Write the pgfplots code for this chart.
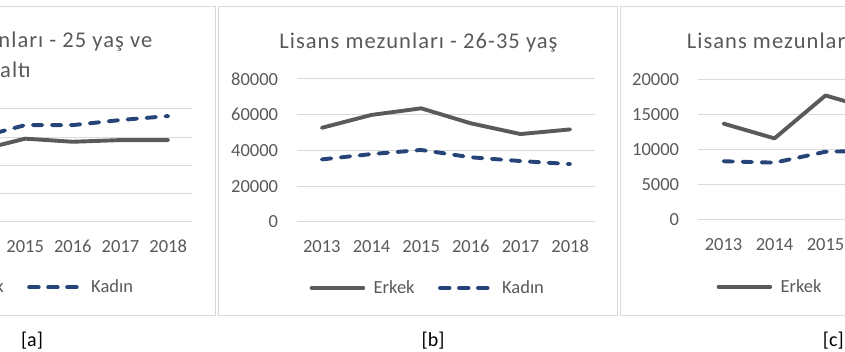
\documentclass[border=0pt]{standalone}
\usepackage{pgfplots}
\pgfplotsset{compat=1.18}
\usepackage{fontspec}
\setmainfont{Carlito}
\newfontfamily\titlefont{Carlito}[LetterSpace=4.6]
\definecolor{txtgray}{HTML}{595959}
\definecolor{lgray}{HTML}{5A5A5A}
\definecolor{kblue}{HTML}{264478}
\definecolor{gridc}{HTML}{D9D9D9}
\definecolor{boxc}{HTML}{D9D9D9}

\pgfplotsset{
  panel/.style={
    scale only axis,
    axis line style={draw=none},
    major tick length=0pt,
    tick style={draw=none},
    ymajorgrids,
    grid style={draw=gridc, line width=1pt},
    xmin=-0.5, xmax=5.5, ymin=0,
    scaled y ticks=false,
    xtick={0,...,5},
    xticklabels={2013,2014,2015,2016,2017,2018},
    tick label style={font=\fontsize{18.5}{20}\selectfont, text=txtgray, inner sep=0pt},
    xticklabel style={anchor=north, yshift=-18pt},
    yticklabel style={anchor=east, xshift=-18.7pt},
    legend columns=2,
    legend style={draw=none, fill=none, inner sep=0pt, outer sep=0pt,
       font=\fontsize{18.5}{20}\selectfont, text=txtgray,
       nodes={inner sep=0pt},
       /tikz/every odd column/.style={column sep=8.5pt},
       /tikz/every even column/.style={column sep=23.5pt}},
    legend image code/.code={\draw[##1, line cap=round] (0pt,0pt) -- (51.6pt,0pt);},
  },
  erkek/.style={color=lgray, line width=3.9pt, line join=round, line cap=round},
  kadin/.style={color=kblue, line width=3.9pt, line join=round, line cap=round, dash pattern=on 9.5pt off 9.5pt},
}

\begin{document}
\begin{tikzpicture}[x=1pt,y=1pt]
% chart boxes
\draw[boxc, line width=1pt] (-184,36) rectangle (215,345);
\draw[boxc, line width=1pt] (218.3,36) rectangle (617.3,345);
\draw[boxc, line width=1pt] (620.3,36) rectangle (1019.3,345);

% panel a
\begin{axis}[panel, at={(-94pt,130pt)}, anchor=south west, width=286pt, height=113pt,
  ymax=40000, ytick={0,10000,20000,30000,40000}, yticklabels={0,10000,20000,30000,40000},
  legend style={at={(0.794,-0.578)}, anchor=east}]
\addplot[erkek] coordinates {(1,25300) (2,29500) (3,28400) (4,29000) (5,29000)};
\addlegendentry{Erkek}
\addplot[kadin] coordinates {(1,29800) (2,34300) (3,34300) (4,36100) (5,37500)};
\addlegendentry{Kadın}
\end{axis}

% panel b
\begin{axis}[panel, at={(297pt,130pt)}, anchor=south west, width=298pt, height=143pt,
  ymax=80000, ytick={0,20000,40000,60000,80000}, yticklabels={0,20000,40000,60000,80000},
  legend style={at={(0.0426,-0.4615)}, anchor=west}]
\addplot[erkek] coordinates {(0,52700) (1,59900) (2,63600) (3,55200) (4,49200) (5,51800)};
\addlegendentry{Erkek}
\addplot[kadin] coordinates {(0,35000) (1,38000) (2,40300) (3,36200) (4,34100) (5,32400)};
\addlegendentry{Kadın}
\end{axis}

% panel c
\begin{axis}[panel, at={(698pt,132pt)}, anchor=south west, width=306pt, height=140.7pt,
  ymax=20000, ytick={0,5000,10000,15000,20000}, yticklabels={0,5000,10000,15000,20000},
  legend style={at={(0.061,-0.474)}, anchor=west}]
\addplot[erkek] coordinates {(0,13700) (1,11600) (2,17700) (3,15600)};
\addlegendentry{Erkek}
\addplot[kadin] coordinates {(0,8350) (1,8150) (2,9700) (3,9850)};
\addlegendentry{Kadın}
\end{axis}

% titles
\begin{scope}[every node/.style={inner sep=0pt, text=txtgray, font=\titlefont\fontsize{22.5}{26}\selectfont}]
\node[anchor=base] at (15.5,304.7) {Lisans mezunları - 25 yaş ve};
\node[anchor=base] at (15.5,274.7) {altı};
\node[anchor=base] at (418.5,303.7) {Lisans mezunları - 26-35 yaş};
\node[anchor=base west] at (686.7,303.7) {Lisans mezunları - 36+ yaş};
\end{scope}

% panel labels
\begin{scope}[every node/.style={inner sep=0pt, text=black, font=\fontsize{20}{22}\selectfont}]
\node[anchor=base] at (32,5.3) {[a]};
\node[anchor=base] at (433,5.3) {[b]};
\node[anchor=base] at (833.3,5.3) {[c]};
\end{scope}

\pgfresetboundingbox
\path[use as bounding box] (0,0) rectangle (845,352);
\end{tikzpicture}
\end{document}
